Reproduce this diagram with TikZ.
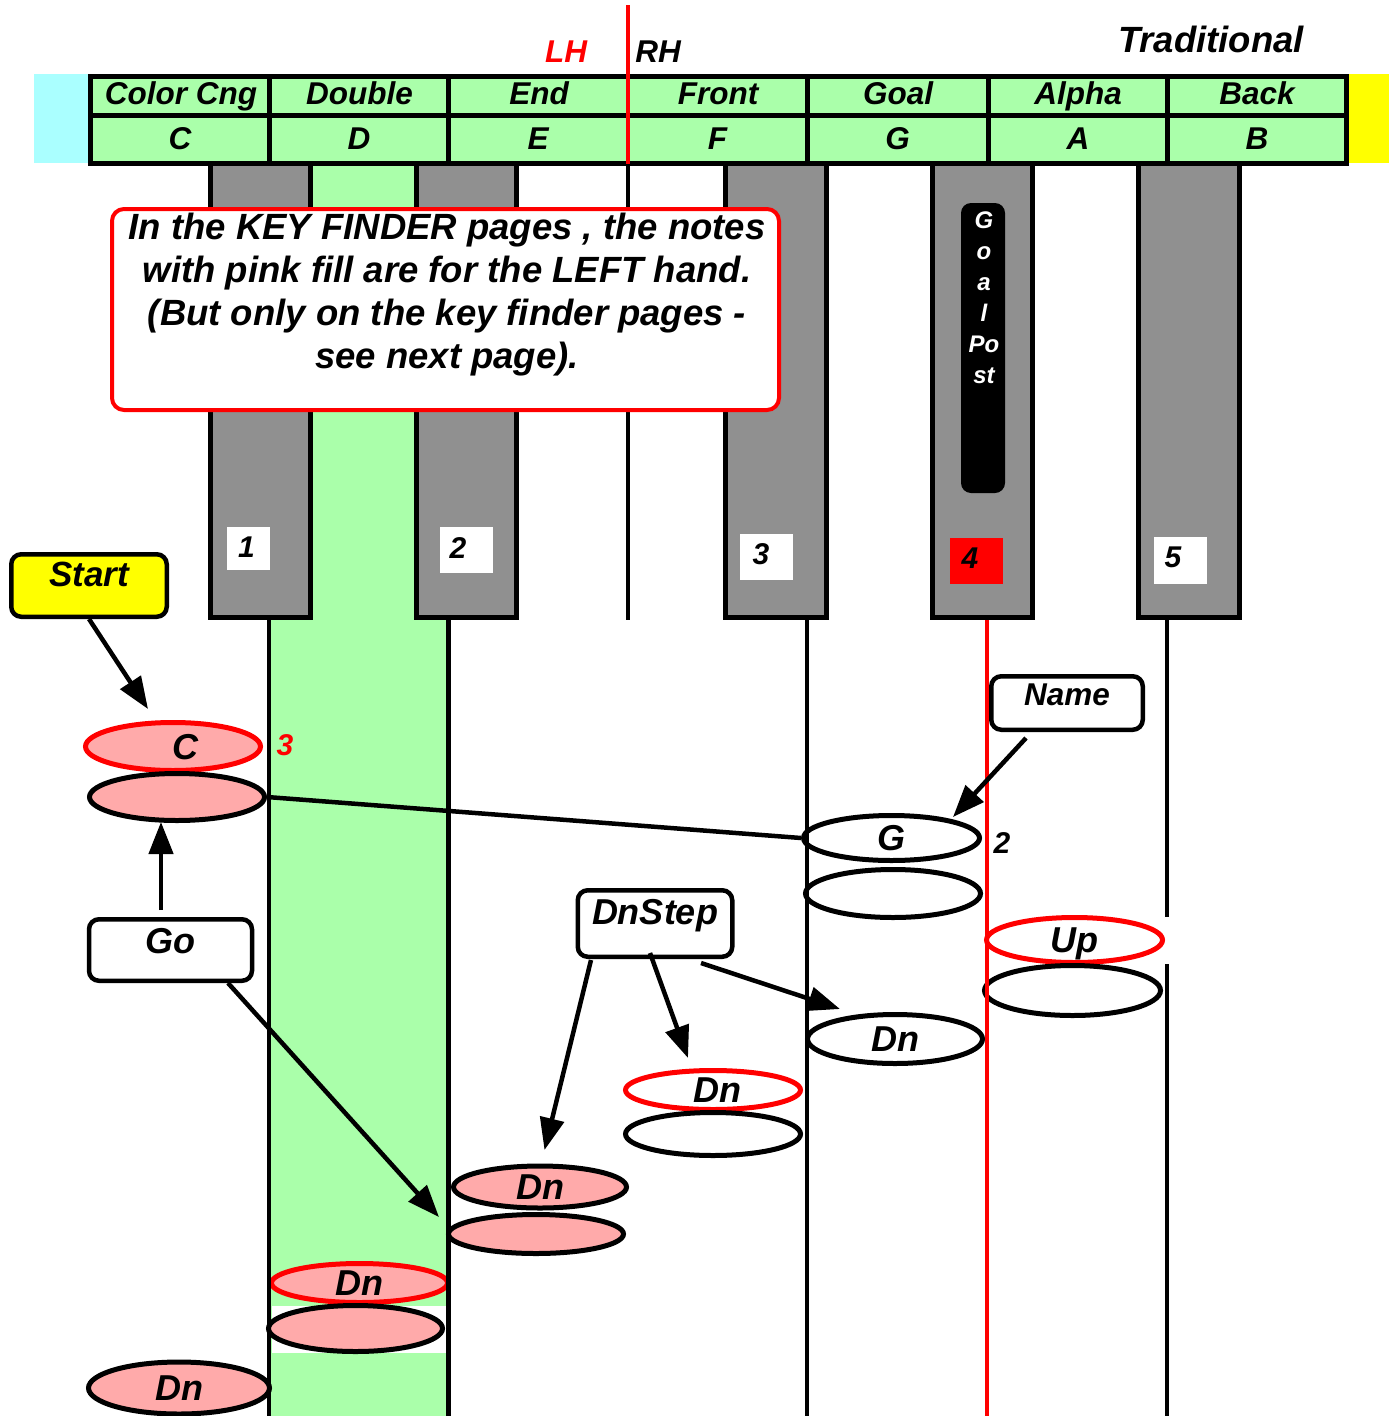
\documentclass[tikz,border=0pt]{standalone}
\usepackage{fontspec}
\setmainfont{Liberation Sans}
\usetikzlibrary{shapes.geometric,arrows.meta}
\definecolor{kgreen}{HTML}{AAFFAA}
\definecolor{pinkfill}{HTML}{FFAAAA}
\definecolor{cyanfill}{HTML}{AAFFFF}
\definecolor{keygray}{HTML}{909090}
\definecolor{myred}{HTML}{FF0000}
\definecolor{myyellow}{HTML}{FFFF00}
\newcommand\fsz[1]{\fontsize{#1}{#1}\selectfont\bfseries\itshape}
\begin{document}
\begin{tikzpicture}[x=1pt,y=-1pt,
  vline/.style={line width=4.5pt},
  redline/.style={line width=4pt, draw=myred},
  keystyle/.style={line width=5pt, draw=black, fill=keygray},
  ell/.style={ellipse, draw=black, line width=5pt, fill=white, inner sep=0pt,
              text height=25pt, text depth=0pt, font=\fsz{36}},
  redell/.style={ell, draw=myred},
  pinkell/.style={ell, fill=pinkfill},
  redpinkell/.style={ell, draw=myred, fill=pinkfill},
  tagbox/.style={rectangle, rounded corners=10pt, draw=black, line width=4.5pt, fill=white,
                 inner sep=0pt, font=\fsz{36}},
  hdr/.style={inner sep=0pt, font=\fsz{31.5}, text height=21.5pt, text depth=0pt},
  numbox/.style={rectangle, fill=white, inner sep=0pt},
  numlbl/.style={inner sep=0pt, font=\fsz{30}, text height=21pt, text depth=0pt},
  smallnum/.style={inner sep=0pt, font=\fsz{30}, text height=21pt, text depth=0pt},
  arr/.style={line width=4.5pt, -{Triangle[length=32pt,width=24pt]}},
  conn/.style={line width=4.5pt}]
\useasboundingbox (0,0) rectangle (1389,1416);

% side colour blocks and green column
\fill[cyanfill] (34,74) rectangle (88,163);
\fill[myyellow] (1349,74) rectangle (1389,163);
\fill[kgreen] (269,163) rectangle (448.5,1416);
\fill[white] (271.5,1306) rectangle (446,1353);

% black keys
\foreach \a/\b in {210/310,416/516.5,725.5/826,932/1032.5,1138.5/1239.5}
  \draw[keystyle] (\a,163) rectangle (\b,617.5);

% header table
\draw[line width=5pt, fill=kgreen] (90.5,76.5) rectangle (1346,163.5);
\draw[line width=5pt] (90.5,115) -- (1346,115);
\foreach \x in {269,448.7,807,988,1167.7}
  \draw[line width=5pt] (\x,76.5) -- (\x,163.5);
\draw[redline] (628,5) -- (628,163.5);
\draw[vline] (628,163.5) -- (628,620);

\node[hdr] (h1) at (181,93.5) {Color Cng};
\node[hdr] (h2) at (359.5,93.5) {Double};
\node[hdr] (h3) at (539,93.5) {End};
\node[hdr] (h4) at (718,93.5) {Front};
\node[hdr] (h5) at (898,93.5) {Goal};
\node[hdr] (h6) at (1078,93.5) {Alpha};
\node[hdr] (h7) at (1257,93.5) {Back};
\node[hdr] (l1) at (180,138.5) {C};
\node[hdr] (l2) at (359,138.5) {D};
\node[hdr] (l3) at (538,138.5) {E};
\node[hdr] (l4) at (717.5,138.5) {F};
\node[hdr] (l5) at (897.5,138.5) {G};
\node[hdr] (l6) at (1078,138.5) {A};
\node[hdr] (l7) at (1257,138.5) {B};

\node[hdr, text=myred] (lh) at (566,52) {LH};
\node[hdr] (rh) at (658,52) {RH};
\node[inner sep=0pt, font=\fsz{36.5}, text height=26pt, text depth=0pt] (trad) at (1211,39.5) {Traditional};

% callout
\node[rectangle, rounded corners=12pt, draw=myred, line width=4pt, fill=white,
      minimum width=667pt, minimum height=201pt] (callout) at (445.5,309.5) {};
\node[inner sep=0pt, align=center, font=\fontsize{36.5}{43}\selectfont\bfseries\itshape,
      anchor=north] (callouttext) at (447,213)
  {In the KEY FINDER pages , the notes\\with pink fill are for the LEFT hand.\\(But only on the key finder pages -\\see next page).};

% goal post
\node[rectangle, rounded corners=10pt, fill=black, minimum width=44pt, minimum height=290pt,
      inner sep=0pt] (goalpost) at (983,348) {};
\node[inner sep=0pt, align=center, text=white, anchor=north,
      font=\fontsize{24}{31}\selectfont\bfseries\itshape] (goaltext) at (984,212)
  {G\\o\\a\\l\\Po\\st};

% finger number boxes
\node[numbox, minimum width=43pt, minimum height=43pt] (b1) at (248.5,548.5) {};
\node[numbox, minimum width=53pt, minimum height=46pt] (b2) at (466.5,550) {};
\node[numbox, minimum width=53pt, minimum height=46pt] (b3) at (766.5,557) {};
\node[numbox, fill=myred, minimum width=53pt, minimum height=46pt] (b4) at (976.5,561) {};
\node[numbox, minimum width=53pt, minimum height=47pt] (b5) at (1180.5,560.5) {};
\node[numlbl] (t1) at (246.5,547) {1};
\node[numlbl] (t2) at (458,548) {2};
\node[numlbl] (t3) at (761,554) {3};
\node[numlbl] (t4) at (970,557.5) {4};
\node[numlbl] (t5) at (1173,557) {5};

% tag boxes
\node[tagbox, fill=myyellow, minimum width=155.5pt, minimum height=62.5pt,
      text height=24.5pt, text depth=23pt, font=\fsz{35}] (start) at (89,585.5) {Start};
\node[tagbox, minimum width=163pt, minimum height=61.5pt,
      text height=26pt, text depth=20pt] (go) at (170.5,950) {Go};
\node[tagbox, minimum width=151.5pt, minimum height=53.5pt, font=\fsz{31.5},
      text height=22pt, text depth=18pt] (name) at (1067,703) {Name};
\node[tagbox, minimum width=154.5pt, minimum height=66.5pt,
      text height=26pt, text depth=25pt] (dnstep) at (655,923.5) {DnStep};

% note ellipses
\node[redpinkell, minimum width=175pt, minimum height=48pt] (c) at (173,746.5) {\hspace*{24pt}C};
\node[pinkell, minimum width=175pt, minimum height=47pt] (clow) at (177,797) {};
\node[ell, minimum width=176pt, minimum height=45pt] (g) at (891.5,838) {G};
\node[ell, minimum width=175pt, minimum height=48pt] (glow) at (893,893.5) {};
\node[redell, minimum width=176pt, minimum height=45pt] (up) at (1074.5,940) {Up};
\node[ell, minimum width=176pt, minimum height=50pt] (uplow) at (1072.5,990.5) {};
\node[ell, minimum width=175pt, minimum height=49pt] (dnr) at (895,1039) {Dn};
\node[redell, minimum width=175pt, minimum height=39pt] (dnm) at (713,1090) {\hspace*{8pt}Dn};
\node[ell, minimum width=175pt, minimum height=43pt] (dnmlow) at (713,1134) {};
\node[pinkell, minimum width=173pt, minimum height=42pt] (dnp) at (540,1187) {Dn};
\node[pinkell, minimum width=175pt, minimum height=39pt] (dnplow) at (536,1234) {};
\node[redpinkell, minimum width=176pt, minimum height=39pt] (dnq) at (359.5,1283) {Dn};
\node[pinkell, minimum width=174pt, minimum height=46pt] (dnqlow) at (355.5,1328.5) {};
\node[pinkell, minimum width=181pt, minimum height=52pt] (dnb) at (179,1388) {Dn};

\node[smallnum, text=myred] (c3) at (285,745) {3};
\node[smallnum] (g2) at (1002,843) {2};

% vertical key boundary lines
\draw[vline] (269,620) -- (269,1416);
\draw[vline] (448.5,620) -- (448.5,1416);
\draw[vline] (807,620) -- (807,1416);
\draw[redline, line width=4.5pt] (987,620) -- (987,1416);
\draw[vline] (1167,620) -- (1167,917);
\draw[vline] (1167,964) -- (1167,1416);

% connectors
\coordinate (startTip) at (148,709);
\coordinate (goUpFrom) at (161,910);
\coordinate (goUpTip) at (161,822);
\coordinate (goFrom) at (228,983);
\coordinate (goTip) at (439,1217);
\coordinate (nameFrom) at (1026,738);
\coordinate (nameTip) at (953,817);
\coordinate (ds1From) at (591,960);
\coordinate (ds1Tip) at (544.5,1150);
\coordinate (ds2From) at (650,953);
\coordinate (ds2Tip) at (688,1058);
\coordinate (ds3From) at (701,963);
\coordinate (ds3Tip) at (840,1009);

\draw[arr] (start.south) -- (startTip);
\draw[arr] (goUpFrom) -- (goUpTip);
\draw[arr] (goFrom) -- (goTip);
\draw[arr] (nameFrom) -- (nameTip);
\draw[arr] (ds1From) -- (ds1Tip);
\draw[arr] (ds2From) -- (ds2Tip);
\draw[arr] (ds3From) -- (ds3Tip);
\draw[conn] (clow.east) -- (g.west);
\end{tikzpicture}
\end{document}
